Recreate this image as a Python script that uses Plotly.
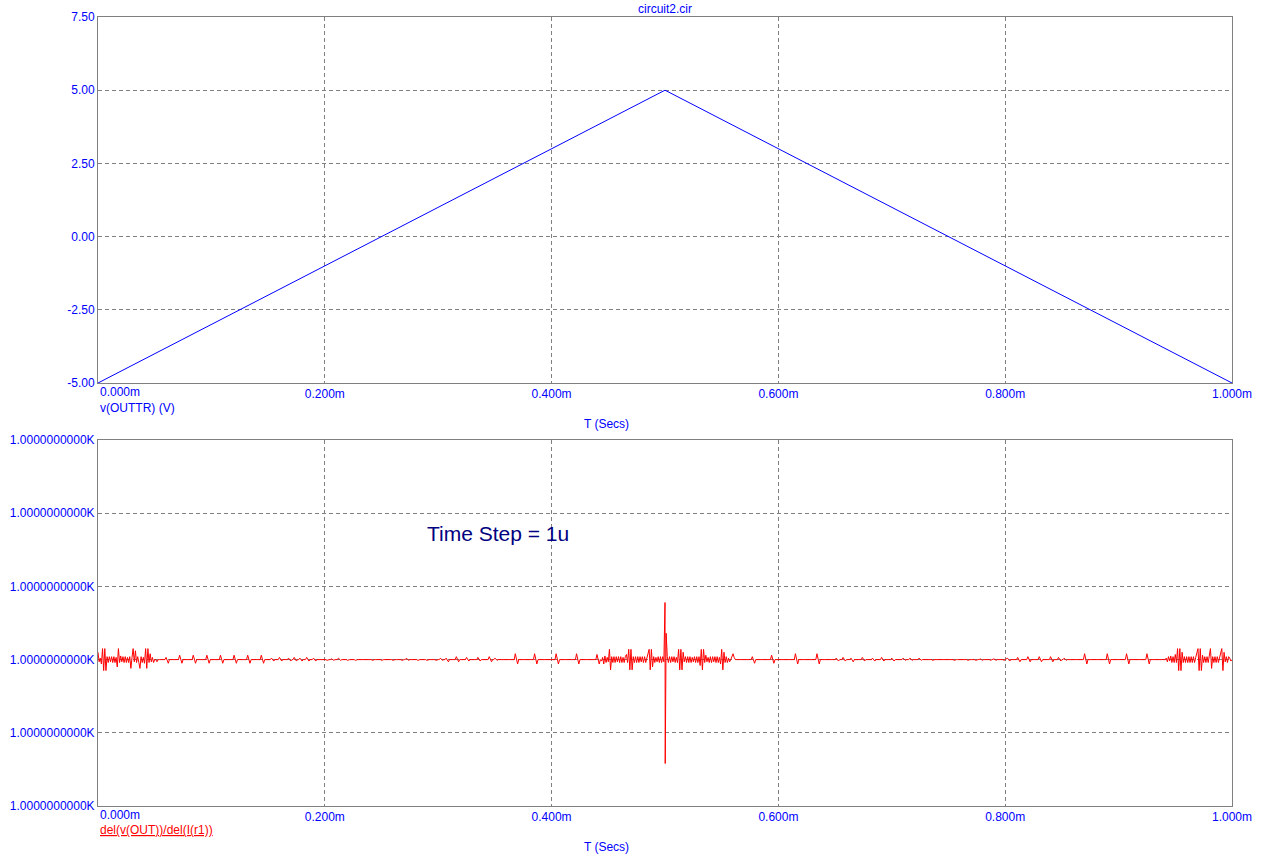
import plotly.graph_objects as go

# ---------------- data ----------------
# top pane: v(OUTTR) triangle wave (time in us, volts)
tri_t_us = [0, 500, 1000]
tri_v = [-5.0, 5.0, -5.0]

top_yticks = [-5.0, -2.5, 0.0, 2.5, 5.0, 7.5]
top_ytext = ["-5.00", "-2.50", "0.00", "2.50", "5.00", "7.50"]

x_ticks_ms = [0.0, 0.2, 0.4, 0.6, 0.8, 1.0]
x_ticktext = ["0.000m", "0.200m", "0.400m", "0.600m", "0.800m", "1.000m"]

bot_yticks = [0, 1, 2, 3, 4, 5]
bot_ytext = ["1.0000000000K"] * 6

# bottom pane: del(v(OUT))/del(I(r1)) -- nominal level (plot units) + deviations
base_level = 2.0
n_steps = 1000  # time step = 1u

noise_a_start = 0
noise_a = [0.10, -0.03, 0.02, -0.06, 0.15, -0.15, 0.15, -0.15, 0.04, -0.04,
           0.04, -0.03, 0.04, -0.04, 0.04, -0.04, 0.03, -0.10, 0.15, -0.04,
           0.05, -0.03, 0.04, -0.04, 0.04, -0.04, 0.03, -0.04, 0.04, -0.12,
           0.03, 0.15, -0.03, 0.12, -0.04, 0.04, -0.04, -0.12, 0.04, -0.04,
           0.03, -0.05, 0.15, -0.12, 0.15, -0.04, 0.08, -0.03, 0.03, -0.04,
           0.0, 0.0, -0.03]

noise_b_start = 444
noise_b = [-0.02, 0.03, -0.06, 0.05, -0.04, 0.03, -0.03, 0.14, -0.14, 0.04,
           -0.04, 0.04, -0.04, 0.04, -0.03, 0.04, -0.04, 0.04, -0.04, 0.03,
           -0.04, 0.04, 0.07, -0.04, 0.14, -0.14, 0.14, -0.14, 0.04, -0.04,
           0.04, -0.04, 0.04, -0.04, 0.04, -0.03, 0.04, -0.04, 0.04, -0.04,
           0.03, 0.06, 0.14, -0.14, 0.14, -0.10, 0.04, -0.04, 0.03, -0.03,
           0.04, -0.04, 0.04, -0.04, 0.04, -0.03]

noise_c_start = 502
noise_c = [0.04, -0.04, 0.04, -0.04, 0.04, -0.03, 0.04, -0.04, 0.03, -0.04,
           0.14, -0.14, 0.14, -0.14, 0.10, -0.03, 0.04, -0.04, 0.04, -0.04,
           0.04, -0.04, 0.03, -0.03, 0.04, -0.04, 0.04, -0.04, 0.04, -0.08,
           0.14, -0.14, 0.14, -0.04, 0.06, -0.03, 0.03, -0.04, 0.04, -0.04,
           0.04, -0.03, 0.04, -0.04, 0.04, -0.04, 0.03, -0.06, 0.14, -0.14,
           0.10, -0.04, 0.04, -0.04, 0.02, -0.03, 0.0, 0.05, 0.08, 0.03, 0.0]

noise_d_start = 942
noise_d = [0.02, -0.03, 0.04, -0.02, 0.05, -0.04, 0.04, -0.04, 0.07, -0.04,
           0.15, -0.15, 0.15, -0.15, 0.10, -0.04, 0.04, -0.04, 0.04, -0.04,
           0.04, -0.04, 0.04, -0.04, 0.04, -0.04, 0.03, 0.08, 0.15, -0.15,
           0.15, -0.15, 0.06, -0.04, 0.04, -0.04, 0.04, -0.04, 0.06, 0.15,
           -0.12, 0.04, -0.04, 0.04, -0.04, 0.04, -0.04, 0.04, 0.08, 0.15,
           -0.15, 0.10, -0.03, 0.04, -0.04, 0.04, 0.02, -0.02, 0.0]

# isolated glitches: [time us, up excursion, down excursion]
glitches = [
    [60, 0.03, 0.05], [72, 0.06, 0.05], [84, 0.06, 0.05], [96, 0.06, 0.05],
    [108, 0.06, 0.05], [120, 0.06, 0.05], [132, 0.06, 0.05], [144, 0.06, 0.05],
    [153, 0.02, 0.02], [160, 0.03, 0.02], [168, 0.02, 0.02], [173, 0.03, 0.02],
    [178, 0.02, 0.02], [184, 0.03, 0.02], [190, 0.02, 0.02],
    [200, 0.01, 0.01], [206, 0.01, 0.01], [212, 0.02, 0.01], [218, 0.01, 0.01],
    [225, 0.01, 0.01], [233, 0.01, 0.0], [240, 0.01, 0.01], [248, 0.01, 0.01],
    [258, 0.01, 0.01], [266, 0.01, 0.01], [272, 0.02, 0.01], [280, 0.01, 0.01],
    [288, 0.01, 0.01], [296, 0.01, 0.01], [302, 0.02, 0.01],
    [307, 0.02, 0.03], [316, 0.04, 0.03], [325, 0.03, 0.02], [335, 0.03, 0.02],
    [345, 0.04, 0.03], [350, 0.02, 0.01], [368, 0.08, 0.06], [385, 0.08, 0.06],
    [404, 0.08, 0.06], [422, 0.08, 0.06], [440, 0.07, 0.06],
    [577, 0.04, 0.05], [594, 0.06, 0.05], [615, 0.08, 0.06], [634, 0.08, 0.06],
    [651, 0.02, 0.02], [657, 0.03, 0.02], [664, 0.02, 0.03], [674, 0.03, 0.02],
    [683, 0.02, 0.02], [691, 0.03, 0.02], [700, 0.02, 0.02], [710, 0.02, 0.01],
    [716, 0.02, 0.01], [724, 0.02, 0.01], [734, 0.01, 0.01], [753, 0.01, 0.01],
    [765, 0.01, 0.01], [772, 0.01, 0.01], [778, 0.01, 0.01], [785, 0.01, 0.01],
    [790, 0.01, 0.01], [797, 0.01, 0.01], [802, 0.02, 0.02], [811, 0.03, 0.03],
    [820, 0.04, 0.03], [830, 0.04, 0.03], [840, 0.04, 0.03], [847, 0.03, 0.02],
    [852, 0.02, 0.01], [870, 0.08, 0.06], [890, 0.08, 0.06], [907, 0.08, 0.06],
    [925, 0.08, 0.06],
]

# discontinuity at the triangle peak (time us, level)
spike_t_us = [500.0, 500.2, 501.0]
spike_v = [2.78, 0.58, 2.36]

# ---------------- build bottom series ----------------
dev = [0.0] * (n_steps + 1)
for start, vals in [(noise_a_start, noise_a), (noise_b_start, noise_b),
                    (noise_c_start, noise_c), (noise_d_start, noise_d)]:
    for i, v in enumerate(vals):
        dev[start + i] = v
for t, up, dn in glitches:
    dev[t] = up
    dev[t + 2] = -dn

pts = {float(t): base_level + dev[t] for t in range(n_steps + 1)}
for t, v in zip(spike_t_us, spike_v):
    pts[t] = v
bt = sorted(pts)
bx_ms = [t / 1000.0 for t in bt]
by = [pts[t] for t in bt]

# ---------------- figure ----------------
BLUE = "#0000FF"
RED = "#FF0000"
GRID = "#808080"
FONT = "Liberation Sans"

fig = go.Figure()
fig.add_trace(go.Scatter(x=[t / 1000.0 for t in tri_t_us], y=tri_v, mode="lines",
                         line=dict(color=BLUE, width=1), xaxis="x", yaxis="y",
                         showlegend=False, hoverinfo="skip"))
fig.add_trace(go.Scatter(x=bx_ms, y=by, mode="lines",
                         line=dict(color=RED, width=1), xaxis="x2", yaxis="y2",
                         showlegend=False, hoverinfo="skip"))

top_dom = [(806 - 383) / 789, 1.0]
bot_dom = [0.0, (806 - 440) / 789]

xcommon = dict(range=[0, 1.0], tickvals=x_ticks_ms[1:], ticktext=x_ticktext[1:],
               showgrid=True, gridcolor=GRID, griddash="4px,3px", gridwidth=1,
               zeroline=False, showline=True, linecolor=GRID, linewidth=1, mirror=True,
               ticks="", tickfont=dict(color=BLUE, size=12, family=FONT),
               automargin=False, fixedrange=True)

fig.update_layout(
    width=1268, height=862,
    margin=dict(l=98, r=36, t=17, b=56),
    paper_bgcolor="white", plot_bgcolor="white",
    font=dict(family=FONT, size=12, color=BLUE),
    xaxis=dict(domain=[0, 1], anchor="y", **xcommon),
    xaxis2=dict(domain=[0, 1], anchor="y2", **xcommon),
    yaxis=dict(domain=top_dom, anchor="x", range=[-5, 7.5], tickvals=top_yticks,
               ticktext=top_ytext, showgrid=True, gridcolor=GRID, griddash="4px,3px",
               gridwidth=1, zeroline=False, showline=True, linecolor=GRID, linewidth=1,
               mirror=True, ticks="", tickfont=dict(color=BLUE, size=12, family=FONT),
               automargin=False, fixedrange=True),
    yaxis2=dict(domain=bot_dom, anchor="x2", range=[0, 5], tickvals=bot_yticks,
                ticktext=bot_ytext, showgrid=True, gridcolor=GRID, griddash="4px,3px",
                gridwidth=1, zeroline=False, showline=True, linecolor=GRID, linewidth=1,
                mirror=True, ticks="", tickfont=dict(color=BLUE, size=12, family=FONT),
                automargin=False, fixedrange=True),
)

ann_font = dict(color=BLUE, size=12, family=FONT)
annotations = [
    dict(text="circuit2.cir", x=(665 - 98) / 1134, xref="paper", y=1, yref="paper",
         xanchor="center", yanchor="middle", yshift=8, showarrow=False, font=ann_font),
    # first x tick label sits to the right of the axis origin
    dict(text=x_ticktext[0], x=x_ticks_ms[0], xref="x", y=top_dom[0], yref="paper",
         yanchor="top", xanchor="left", showarrow=False, font=ann_font),
    dict(text=x_ticktext[0], x=x_ticks_ms[0], xref="x2", y=0, yref="paper",
         xanchor="left", yanchor="top", showarrow=False, font=ann_font),
    dict(text="v(OUTTR) (V)", x=0, xref="paper", y=(806 - 408) / 789, yref="paper",
         xanchor="left", yanchor="middle", showarrow=False, font=ann_font),
    dict(text="T (Secs)", x=(606 - 98) / 1134, xref="paper", y=(806 - 424) / 789,
         yref="paper", xanchor="center", yanchor="middle", showarrow=False, font=ann_font),
    dict(text="<u>del(v(OUT))/del(I(r1))</u>", x=0, xref="paper", y=(806 - 830) / 789,
         yref="paper", xanchor="left", yanchor="middle", showarrow=False,
         font=dict(color=RED, size=12, family=FONT)),
    dict(text="T (Secs)", x=(606 - 98) / 1134, xref="paper", y=(806 - 847) / 789,
         yref="paper", xanchor="center", yanchor="middle", showarrow=False, font=ann_font),
    dict(text="Time Step = 1u", x=0.2884, xref="x2", y=3.72, yref="y2",
         xanchor="left", yanchor="middle", showarrow=False,
         font=dict(color="#000080", size=21, family=FONT)),
]
fig.update_layout(annotations=annotations)

fig.write_html("out.html", config={"displayModeBar": False},
               post_script="document.body.style.margin='0';document.body.style.overflow='hidden';")
